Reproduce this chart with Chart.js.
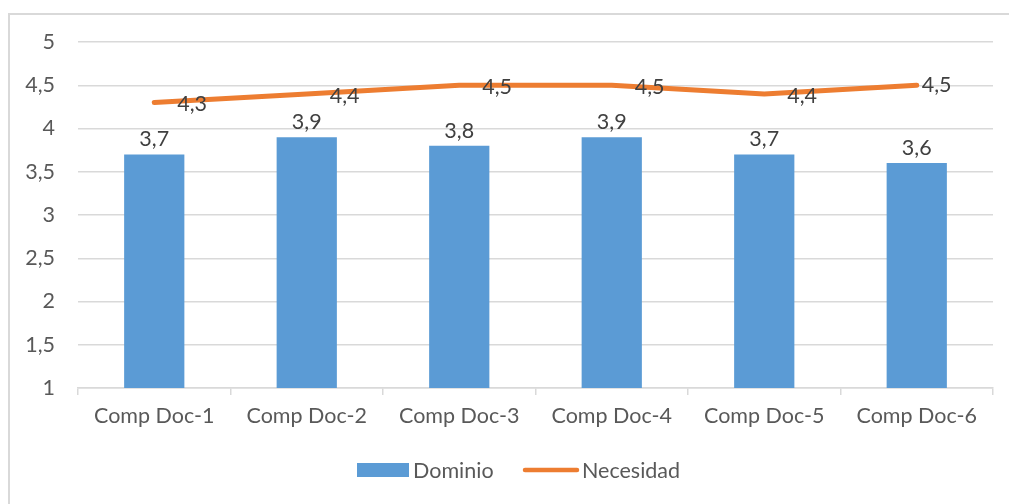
<!DOCTYPE html>
<html>
<head>
<meta charset="utf-8">
<script src="https://cdn.jsdelivr.net/npm/chart.js@4/dist/chart.umd.min.js"></script>
<style>
  html, body { margin: 0; padding: 0; background: #fff; }
  #wrap { position: relative; width: 1009px; height: 504px; }
  #frame { position: absolute; left: 8px; top: 13px; width: 1010px; height: 500px;
           border-left: 2px solid #d9d9d9; border-top: 2px solid #d9d9d9; box-sizing: border-box; }
  canvas { position: absolute; left: 0; top: 0; }
</style>
</head>
<body>
<div id="wrap">
  <div id="frame"></div>
  <canvas id="c" width="1009" height="504"></canvas>
</div>
<script>
const categories = ['Comp Doc-1', 'Comp Doc-2', 'Comp Doc-3', 'Comp Doc-4', 'Comp Doc-5', 'Comp Doc-6'];
const dominio = [3.7, 3.9, 3.8, 3.9, 3.7, 3.6];
const necesidad = [4.3, 4.4, 4.5, 4.5, 4.4, 4.5];
const yTicks = [1, 1.5, 2, 2.5, 3, 3.5, 4, 4.5, 5];

const FONT = 'Lato, "Open Sans", sans-serif';
const BLUE = '#5B9BD5';
const ORANGE = '#ED7D31';
const fmt = v => String(v).replace('.', ',');

// Value labels: above each bar, to the right of each line point
const valueLabels = {
  id: 'valueLabels',
  afterDatasetsDraw(chart) {
    const ctx = chart.ctx;
    ctx.save();
    ctx.font = '21.5px ' + FONT;
    ctx.fillStyle = '#404040';
    chart.data.datasets.forEach((ds, i) => {
      const meta = chart.getDatasetMeta(i);
      const last = meta.data.length - 1;
      meta.data.forEach((el, j) => {
        const txt = fmt(ds.data[j]);
        if (ds.type === 'bar') {
          ctx.textAlign = 'center';
          ctx.textBaseline = 'alphabetic';
          ctx.fillText(txt, el.x, el.y - 8);
        } else {
          ctx.textAlign = 'left';
          ctx.textBaseline = 'middle';
          // the final point's label sits right against the line end
          if (j === last) ctx.fillText(txt, el.x + 5, el.y);
          else ctx.fillText(txt, el.x + 23, el.y + 2);
        }
      });
    });
    ctx.restore();
  }
};

// Legend drawn below the axis labels
const bottomLegend = {
  id: 'bottomLegend',
  afterDraw(chart) {
    const ctx = chart.ctx;
    const y = 470;
    const barDs = chart.data.datasets.find(d => d.type === 'bar');
    const lineDs = chart.data.datasets.find(d => d.type === 'line');
    ctx.save();
    ctx.font = '21.5px ' + FONT;
    ctx.textBaseline = 'middle';
    ctx.textAlign = 'left';
    ctx.fillStyle = BLUE;
    ctx.fillRect(357, y - 7, 52, 14);
    ctx.fillStyle = '#595959';
    ctx.fillText(barDs.label, 413, y + 1);
    ctx.strokeStyle = ORANGE;
    ctx.lineWidth = 4.5;
    ctx.lineCap = 'round';
    ctx.beginPath();
    ctx.moveTo(525, y);
    ctx.lineTo(577, y);
    ctx.stroke();
    ctx.fillText(lineDs.label, 582, y + 1);
    ctx.restore();
  }
};

new Chart(document.getElementById('c'), {
  data: {
    labels: categories,
    datasets: [
      { type: 'line', label: 'Necesidad', data: necesidad, borderColor: ORANGE, borderWidth: 5,
        borderCapStyle: 'round', borderJoinStyle: 'round', pointRadius: 0, tension: 0, order: 0 },
      { type: 'bar', label: 'Dominio', data: dominio, backgroundColor: BLUE,
        categoryPercentage: 1, barPercentage: 0.395, order: 1 }
    ]
  },
  options: {
    responsive: false,
    animation: false,
    devicePixelRatio: 1,
    layout: { padding: { left: 0, right: 16, top: 42, bottom: 0 } },
    plugins: { legend: { display: false }, tooltip: { enabled: false } },
    scales: {
      x: {
        offset: true,
        grid: { offset: true, drawOnChartArea: false, drawTicks: true, tickLength: 7, color: '#d9d9d9', lineWidth: 1.5 },
        border: { display: true, color: '#d9d9d9', width: 1.5 },
        ticks: { color: '#595959', font: { family: FONT, size: 21.5 }, padding: 8, maxRotation: 0 },
        afterFit(s) { s.height = 116; }
      },
      y: {
        min: 1, max: 5,
        afterBuildTicks(s) { s.ticks = yTicks.map(v => ({ value: v })); },
        grid: { color: '#d9d9d9', lineWidth: 1.5, drawTicks: false },
        border: { display: false },
        ticks: { color: '#595959', font: { family: FONT, size: 21.5 }, padding: 23, callback: v => fmt(v) },
        afterFit(s) { s.width = 78; }
      }
    }
  },
  plugins: [valueLabels, bottomLegend]
});
</script>
</body>
</html>
